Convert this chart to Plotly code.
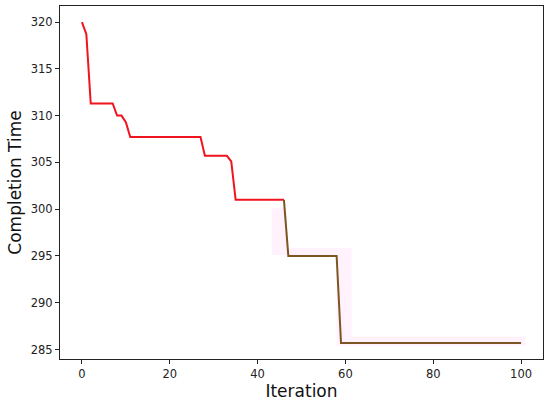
import plotly.graph_objects as go

# best completion time per iteration
iter_a = list(range(0, 47))
time_a = [320.0, 318.7, 311.3, 311.3, 311.3, 311.3, 311.3, 311.3, 310.0, 310.0,
          309.3, 307.7] + [307.7] * 16 + [305.7] * 6 + [305.1] + [301.0] * 12

iter_b = list(range(46, 101))
time_b = [301.0] + [295.0] * 12 + [285.7] * 42

# faint spread band around the second run
band_x = [43.2, 46.5, 46.9, 61.4, 61.4, 101.0, 101.0, 58.0, 58.0, 43.2, 43.2]
band_y = [300.1, 300.1, 295.85, 295.85, 286.4, 286.4, 285.4, 285.4, 295.0, 295.1, 300.1]

fig = go.Figure()
fig.add_trace(go.Scatter(
    x=band_x, y=band_y, mode='lines', fill='toself',
    fillcolor='rgba(255,170,240,0.15)', line=dict(width=0),
    hoverinfo='skip', showlegend=False
))
fig.add_trace(go.Scatter(
    x=iter_a, y=time_a, mode='lines',
    line=dict(color='#f0141e', width=2), showlegend=False
))
fig.add_trace(go.Scatter(
    x=iter_b, y=time_b, mode='lines',
    line=dict(color='#7d5522', width=2), showlegend=False
))

axis_style = dict(
    showgrid=False, zeroline=False, showline=True, mirror=True, automargin=False,
    linecolor='#222', linewidth=1, ticks='outside', ticklen=4,
    tickcolor='#222', tickfont=dict(family='DejaVu Sans', size=11.5, color='#222'),
)
fig.update_xaxes(range=[-5, 105], tickvals=[0, 20, 40, 60, 80, 100],
                 title=dict(text='Iteration', font=dict(family='DejaVu Sans', size=17, color='#111'),
                            standoff=5),
                 **axis_style)
fig.update_yaxes(range=[283.985, 321.715], tickvals=[285, 290, 295, 300, 305, 310, 315, 320],
                 title=dict(text='Completion Time', font=dict(family='DejaVu Sans', size=17, color='#111'),
                            standoff=4),
                 **axis_style)

fig.update_layout(
    width=550, height=403,
    margin=dict(l=60, r=7, t=6, b=44),
    plot_bgcolor='white', paper_bgcolor='white',
)

fig.write_html("out.html", config={'displayModeBar': False},
               post_script="document.body.style.margin='0';")
